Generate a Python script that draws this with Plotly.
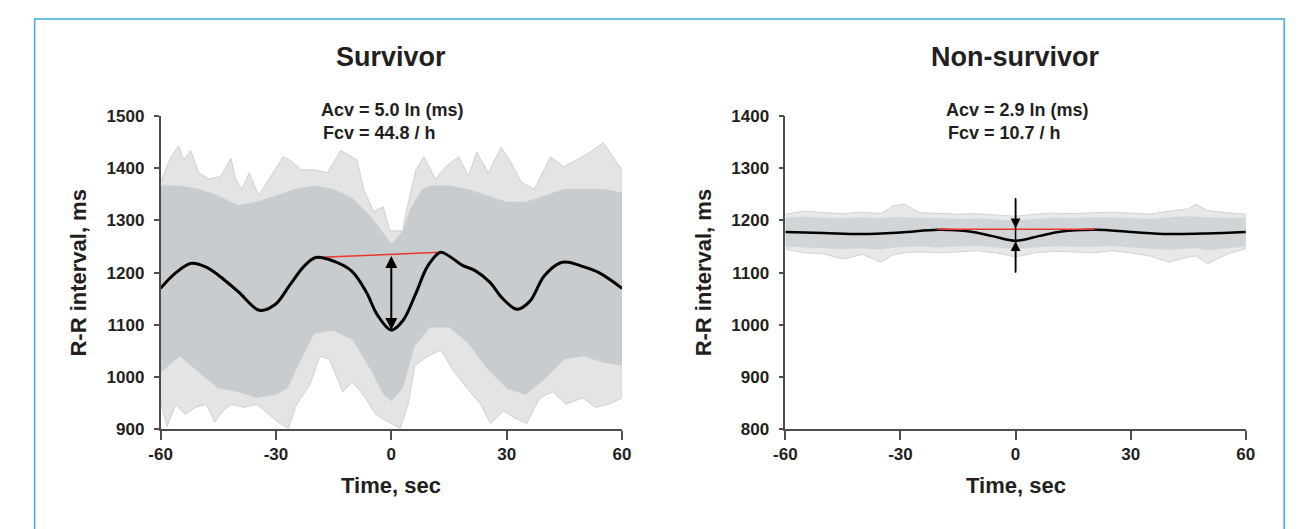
import plotly.graph_objects as go

# ---------------- data ----------------
# Survivor: mean curve
surv_t = [-60, -56, -52, -48, -43.4, -39.7, -34.3, -30.2, -26.4, -22.6, -19.6, -15, -10.3, -6.5, -3.7, 0,
          3, 6.2, 9.5, 12.8, 15.2, 18.5, 21.8, 25.6, 28.9, 32.7, 36, 39.8, 44, 46, 49.3, 54, 60]
surv_mean = [1170, 1200, 1218, 1210, 1186, 1163, 1128, 1139, 1176, 1213, 1229, 1222, 1203, 1163, 1120, 1090,
             1108, 1157, 1213, 1239, 1231, 1214, 1204, 1182, 1151, 1130, 1145, 1194, 1219, 1220, 1213, 1200, 1170]

# Survivor: outer envelope of the individual (grey) recordings
surv_up_t = [-60, -57.3, -55.3, -54, -52.2, -50, -47.3, -44.3, -41.7, -40.5, -38.8, -37, -34.5, -32.4, -30.7,
             -28.1, -26.4, -23.4, -20, -16.6, -13.2, -11, -8.9, -7.2, -4.6, -2.1, -0.4, 3, 3.9, 6.4, 8.5, 11.5,
             14.1, 17.5, 20.1, 22.2, 25.2, 28.6, 31.2, 33.8, 37.2, 41.4, 44.8, 48.2, 51.2, 55.1, 57.6, 60]
surv_up = [1373, 1422, 1443, 1416, 1434, 1391, 1379, 1385, 1419, 1379, 1360, 1391, 1348, 1373, 1391,
           1422, 1416, 1397, 1397, 1391, 1434, 1425, 1416, 1360, 1317, 1326, 1280, 1280, 1317, 1397, 1422, 1379,
           1403, 1422, 1385, 1431, 1391, 1440, 1410, 1373, 1360, 1422, 1403, 1416, 1428, 1449, 1422, 1397]
surv_lo_t = [-60, -58.3, -56.1, -53.6, -51, -48.1, -45.9, -43.8, -41.7, -38.3, -34.9, -31.9, -28.9, -26.8, -24.6,
             -21.2, -18.6, -16.1, -12.6, -10.1, -6.7, -4.1, -1.5, 2.3, 4.4, 6.1, 9.5, 12.9, 16.4, 19.8, 23.2,
             25.8, 29.2, 31.8, 35.2, 38.6, 42, 45.4, 49.7, 53.1, 56.5, 60]
surv_lo = [954, 905, 948, 929, 942, 948, 914, 935, 948, 942, 948, 929, 911, 902, 948,
           985, 1040, 1034, 972, 991, 960, 929, 917, 902, 948, 1022, 1040, 1052, 1009, 978, 948,
           911, 935, 923, 911, 960, 972, 948, 960, 942, 948, 960]
# Survivor: dense core of the recordings
surv_core_up_t = [-60, -55, -50, -45, -40, -35, -30, -25, -20, -15, -10, -5, -2, 0, 3, 5, 8, 10, 15, 20, 25, 30,
                  35, 40, 45, 50, 55, 60]
surv_core_up = [1367, 1367, 1360, 1348, 1329, 1336, 1348, 1360, 1367, 1360, 1342, 1305, 1275, 1255, 1280, 1323,
                1360, 1367, 1367, 1360, 1348, 1336, 1336, 1348, 1360, 1360, 1360, 1354]
surv_core_lo_t = [-60, -55, -50, -45, -40, -35, -30, -27, -23, -20, -15, -10, -5, -2, 0, 3, 6, 10, 15, 20, 25,
                  30, 35, 40, 45, 50, 55, 60]
surv_core_lo = [1009, 1040, 1009, 978, 972, 960, 966, 978, 1040, 1083, 1089, 1071, 1009, 966, 954, 978, 1058,
                1095, 1095, 1065, 1015, 978, 966, 997, 1034, 1040, 1028, 1022]

# Survivor: deceleration markers
surv_red_t = [-19.6, 12.8]
surv_red_v = [1229, 1239]
surv_arrow_t = 0
surv_arrow_top = 1235
surv_arrow_bottom = 1090

# Non-survivor: mean curve
non_t = [-60, -50, -40, -30, -20, -12, -6, 0, 6, 12, 21, 30, 40, 50, 60]
non_mean = [1178, 1176, 1174, 1177, 1182, 1179, 1170, 1161, 1170, 1179, 1182, 1178, 1174, 1175, 1178]

# Non-survivor: envelope and core of the individual recordings
non_env_t = [-60, -55, -50, -45, -40, -35, -32, -29, -25, -20, -15, -10, -5, 0, 5, 10, 15, 20, 25, 30, 35, 40,
             45, 47, 50, 55, 60]
non_up = [1212, 1218, 1215, 1213, 1216, 1213, 1228, 1231, 1215, 1214, 1212, 1213, 1210, 1208, 1212, 1214, 1213,
          1215, 1216, 1214, 1212, 1218, 1222, 1231, 1219, 1215, 1212]
non_lo = [1145, 1138, 1136, 1126, 1135, 1120, 1134, 1138, 1140, 1138, 1140, 1142, 1138, 1130, 1138, 1141, 1140,
          1138, 1142, 1138, 1132, 1120, 1130, 1132, 1117, 1135, 1146]
non_core_up = [1205, 1207, 1205, 1204, 1206, 1204, 1207, 1206, 1205, 1204, 1203, 1204, 1202, 1200, 1203, 1205,
               1204, 1206, 1206, 1205, 1203, 1206, 1208, 1207, 1206, 1205, 1205]
non_core_lo = [1150, 1148, 1147, 1145, 1147, 1144, 1148, 1149, 1150, 1148, 1150, 1151, 1148, 1145, 1148, 1150,
               1150, 1149, 1151, 1148, 1146, 1144, 1146, 1147, 1143, 1147, 1150]

non_red_t = [-20.4, 20.6]
non_red_v = [1183, 1183]
non_arrow_t = 0
non_arrow_top = 1243
non_arrow_down_tip = 1185
non_arrow_up_tip = 1160
non_arrow_bottom = 1100

x_ticks = [-60, -30, 0, 30, 60]
x_ticktext = ["-60", "-30", "0", "30", "60"]
surv_yticks = [900, 1000, 1100, 1200, 1300, 1400, 1500]
non_yticks = [800, 900, 1000, 1100, 1200, 1300, 1400]

titles = ["Survivor", "Non-survivor"]
acv_text = ["Acv = 5.0 ln (ms)", "Acv = 2.9 ln (ms)"]
fcv_text = ["Fcv = 44.8 / h", "Fcv = 10.7 / h"]
y_title = "R-R interval, ms"
x_title = "Time, sec"

# ---------------- figure ----------------
W, H = 1304, 529
FONT = "Liberation Sans, Arial, Helvetica, sans-serif"
TXT = "#231f20"
AX = "#4d4d4d"
RED = "#e8372c"


def px(x):
    return x / W


def py(y):
    return 1 - y / H


fig = go.Figure()


def band(t_up, v_up, t_lo, v_lo, color, xa, ya, edge=None):
    fig.add_trace(go.Scatter(
        x=list(t_up) + list(reversed(t_lo)), y=list(v_up) + list(reversed(v_lo)),
        fill="toself", fillcolor=color, mode="lines",
        line=dict(width=1 if edge else 0, color=edge or color),
        hoverinfo="skip", showlegend=False, xaxis=xa, yaxis=ya))


# Survivor panel
band(surv_up_t, surv_up, surv_lo_t, surv_lo, "#e2e4e5", "x", "y", edge="#cdd0d2")
band(surv_core_up_t, surv_core_up, surv_core_lo_t, surv_core_lo, "#c9ccce", "x", "y")
fig.add_trace(go.Scatter(x=surv_red_t, y=surv_red_v, mode="lines", line=dict(color=RED, width=1.5),
                         showlegend=False, xaxis="x", yaxis="y"))
fig.add_trace(go.Scatter(x=surv_t, y=surv_mean, mode="lines", line=dict(color="black", width=3, shape="spline"),
                         showlegend=False, xaxis="x", yaxis="y"))

# Non-survivor panel
band(non_env_t, non_up, non_env_t, non_lo, "#e6e8e9", "x2", "y2", edge="#d0d3d5")
band(non_env_t, non_core_up, non_env_t, non_core_lo, "#d2d5d7", "x2", "y2")
fig.add_trace(go.Scatter(x=non_t, y=non_mean, mode="lines", line=dict(color="black", width=2.5, shape="spline"),
                         showlegend=False, xaxis="x2", yaxis="y2"))
fig.add_trace(go.Scatter(x=non_red_t, y=non_red_v, mode="lines", line=dict(color=RED, width=1.5),
                         showlegend=False, xaxis="x2", yaxis="y2"))
fig.add_trace(go.Scatter(x=[non_arrow_t, non_arrow_t], y=[non_arrow_top, non_arrow_bottom], mode="lines",
                         line=dict(color="black", width=1.5), showlegend=False, xaxis="x2", yaxis="y2"))

annotations = []
# arrows
annotations.append(dict(x=surv_arrow_t, y=surv_arrow_bottom, ax=surv_arrow_t, ay=surv_arrow_top,
                        xref="x", yref="y", axref="x", ayref="y", showarrow=True, text="",
                        arrowhead=2, startarrowhead=2, arrowside="end+start", arrowsize=1.2,
                        startarrowsize=1.2, arrowwidth=2, arrowcolor="black"))
annotations.append(dict(x=non_arrow_t, y=non_arrow_down_tip, ax=non_arrow_t, ay=non_arrow_top,
                        xref="x2", yref="y2", axref="x2", ayref="y2", showarrow=True, text="",
                        arrowhead=2, arrowsize=1.3, arrowwidth=1.5, arrowcolor="black"))
annotations.append(dict(x=non_arrow_t, y=non_arrow_up_tip, ax=non_arrow_t, ay=non_arrow_bottom,
                        xref="x2", yref="y2", axref="x2", ayref="y2", showarrow=True, text="",
                        arrowhead=2, arrowsize=1.3, arrowwidth=1.5, arrowcolor="black"))

panel_left = [151, 786]
panel_right = [620, 1254]
plot_top, plot_bottom = 111, 436

for i in range(2):
    cx = (panel_left[i] + panel_right[i]) / 2
    annotations.append(dict(text=titles[i], x=px(cx), y=py(50), xref="paper", yref="paper",
                            showarrow=False, xanchor="center", yanchor="middle",
                            font=dict(family=FONT, size=27, color=TXT, weight="bold")))
    annotations.append(dict(text=acv_text[i], x=px(panel_left[i] + 161), y=py(105), xref="paper", yref="paper",
                            showarrow=False, xanchor="left", yanchor="middle",
                            font=dict(family=FONT, size=18, color=TXT, weight="bold")))
    annotations.append(dict(text=fcv_text[i], x=px(panel_left[i] + 163), y=py(129), xref="paper", yref="paper",
                            showarrow=False, xanchor="left", yanchor="middle",
                            font=dict(family=FONT, size=18, color=TXT, weight="bold")))
    annotations.append(dict(text=y_title, x=px(panel_left[i] - 83), y=py((plot_top + plot_bottom) / 2),
                            xref="paper", yref="paper", showarrow=False, textangle=-90,
                            xanchor="center", yanchor="middle",
                            font=dict(family=FONT, size=22, color=TXT, weight="bold")))
    annotations.append(dict(text=x_title, x=px(cx), y=py(494), xref="paper", yref="paper",
                            showarrow=False, xanchor="center", yanchor="middle",
                            font=dict(family=FONT, size=22, color=TXT, weight="bold")))

tickfont = dict(family=FONT, size=17, color=TXT, weight="bold")
xcommon = dict(range=[-60, 60], tickvals=x_ticks, ticktext=x_ticktext, ticks="outside", ticklen=9,
               tickwidth=1.5, tickcolor=AX, showline=True, linecolor=AX, linewidth=1.5, showgrid=False,
               zeroline=False, tickfont=tickfont, fixedrange=True)
ycommon = dict(ticks="outside", ticklen=5, tickwidth=1.5, tickcolor=AX, showline=True, linecolor=AX,
               linewidth=1.5, showgrid=False, zeroline=False, tickfont=tickfont, ticklabelstandoff=6,
               fixedrange=True)

fig.update_layout(
    width=W, height=H, margin=dict(l=0, r=0, t=0, b=0),
    paper_bgcolor="white", plot_bgcolor="white", showlegend=False,
    xaxis=dict(domain=[px(151), px(620)], anchor="y", **xcommon),
    yaxis=dict(domain=[py(436), py(111)], anchor="x", range=[900, 1500], tickvals=surv_yticks, **ycommon),
    xaxis2=dict(domain=[px(786), px(1254)], anchor="y2", **xcommon),
    yaxis2=dict(domain=[py(436), py(111)], anchor="x2", range=[800, 1400], tickvals=non_yticks, **ycommon),
    annotations=annotations,
    shapes=[dict(type="rect", xref="paper", yref="paper", x0=px(23), x1=px(1293), y0=py(560), y1=py(10.5),
                 line=dict(color="#3aaee0", width=1.5), fillcolor="rgba(0,0,0,0)", layer="below")],
)

fig.write_html("out.html", config={"displayModeBar": False},
               post_script="document.body.style.margin='0';")
